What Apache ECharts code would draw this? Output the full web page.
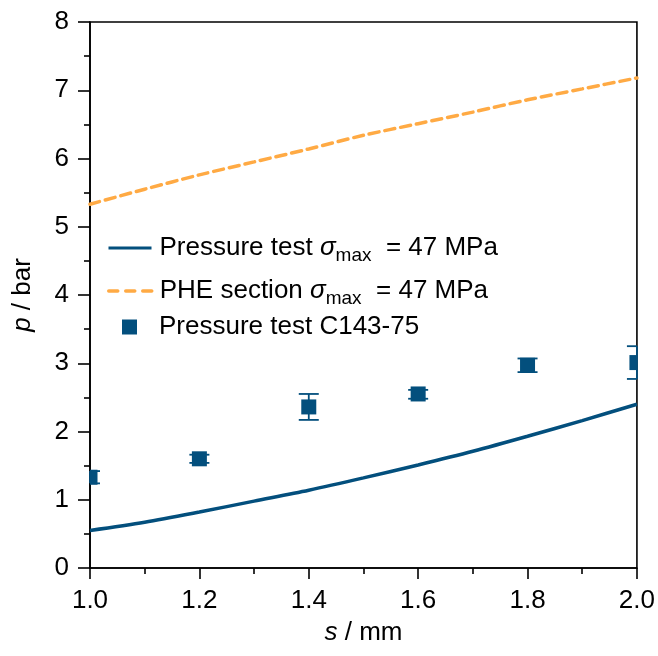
<!DOCTYPE html>
<html>
<head>
<meta charset="utf-8">
<script src="https://cdn.jsdelivr.net/npm/echarts@6/dist/echarts.min.js"></script>
<style>
  html, body {margin: 0; padding: 0; background: #fff;}
  #chart {width: 658px; height: 656px;}
</style>
</head>
<body>
<div id="chart"></div>
<script>
// model curves, s in mm
const sModel = [1.0, 1.1, 1.2, 1.3, 1.4, 1.5, 1.6, 1.7, 1.8, 1.9, 2.0];
const pPressureTest = [0.55, 0.67, 0.82, 0.98, 1.14, 1.32, 1.51, 1.71, 1.93, 2.16, 2.40];
const pPheSection = [5.33, 5.55, 5.76, 5.95, 6.14, 6.34, 6.51, 6.68, 6.86, 7.02, 7.18];

// measured points C143-75
const sMeas = [1.0, 1.2, 1.4, 1.6, 1.8, 2.0];
const pMeas = [1.33, 1.60, 2.36, 2.55, 2.97, 3.01];
const pMeasLow = [1.24, 1.54, 2.17, 2.48, 2.87, 2.77];
const pMeasHigh = [1.42, 1.66, 2.55, 2.61, 3.07, 3.25];

const blue = "#034f7d";
const orange = "#ffaa44";
const font = "Liberation Sans, Arial, sans-serif";

const chart = echarts.init(document.getElementById("chart"));

const zip = (a, b) => a.map((v, i) => [v, b[i]]);

const richLegend = {
	n: {fontSize: 26, fontFamily: font, color: "#000"},
	i: {fontSize: 26, fontFamily: font, fontStyle: "italic", color: "#000"},
	sub: {fontSize: 19, fontFamily: font, color: "#000", padding: [15, 0, 0, 0]},
};
const legendNames = {
	"Pressure test": "{n|Pressure test }{i|σ}{sub|max}{n|  = 47 MPa}",
	"PHE section": "{n|PHE section }{i|σ}{sub|max}{n|  = 47 MPa}",
	"Pressure test C143-75": "{n|Pressure test C143-75}",
};
const makeLegend = (name, left, top, width, extra) => Object.assign({
	left: left,
	top: top,
	orient: "vertical",
	padding: 0,
	itemWidth: width,
	itemHeight: 14,
	itemGap: 0,
	data: [name],
	formatter: (n) => legendNames[n],
	textStyle: {rich: richLegend, padding: [0, 0, 0, 3]},
	selectedMode: false,
}, extra);

// squares and error bars, clipped to the plot area
const measRender = (params, api) => {
	const cs = params.coordSys;
	const clampX = (x) => Math.min(Math.max(x, cs.x), cs.x + cs.width);
	const x = api.value(0);
	const c = api.coord([x, api.value(1)]);
	const lo = api.coord([x, api.value(2)]);
	const hi = api.coord([x, api.value(3)]);
	const hw = 10;
	const hs = 7.5;
	const style = {stroke: blue, lineWidth: 1.8};
	const sq = echarts.graphic.clipRectByRect(
		{x: c[0] - hs, y: c[1] - hs, width: hs * 2, height: hs * 2},
		{x: cs.x, y: cs.y, width: cs.width, height: cs.height}
	);
	return {
		type: "group",
		children: [
			{type: "line", shape: {x1: lo[0], y1: lo[1], x2: hi[0], y2: hi[1]}, style},
			{type: "line", shape: {x1: clampX(lo[0] - hw), y1: lo[1], x2: clampX(lo[0] + hw), y2: lo[1]}, style},
			{type: "line", shape: {x1: clampX(hi[0] - hw), y1: hi[1], x2: clampX(hi[0] + hw), y2: hi[1]}, style},
			{type: "rect", shape: sq, style: {fill: blue}},
		],
	};
};

const nameStyle = {
	rich: {
		i: {fontSize: 26, fontFamily: font, fontStyle: "italic", color: "#000"},
	},
	fontSize: 26,
	fontFamily: font,
	color: "#000",
};
const axisLine = {lineStyle: {color: "#000", width: 1.6}};

chart.setOption({
	animation: false,
	backgroundColor: "#fff",
	grid: {left: 90, right: 21, top: 22, bottom: 88, show: true, borderColor: "#000", borderWidth: 1.6},
	legend: [
		makeLegend("Pressure test", 107, 235, 43, {itemStyle: {opacity: 0}, lineStyle: {width: 3}}),
		makeLegend("PHE section", 107, 278, 43, {itemStyle: {opacity: 0}, lineStyle: {width: 3.5, type: [9, 8]}}),
		makeLegend("Pressure test C143-75", 122, 314, 15, {
			itemHeight: 15,
			icon: "rect",
			textStyle: {rich: richLegend, padding: [0, 0, 0, 17]},
		}),
	],
	xAxis: {
		type: "value",
		min: 1.0,
		max: 2.0,
		interval: 0.2,
		name: "{i|s} / mm",
		nameLocation: "middle",
		nameGap: 52,
		nameTextStyle: nameStyle,
		axisLine: axisLine,
		axisTick: {length: 11, lineStyle: {color: "#000", width: 1.6}},
		minorTick: {show: true, splitNumber: 2, length: 6, lineStyle: {color: "#000", width: 1.6}},
		splitLine: {show: false},
		axisLabel: {fontSize: 26, fontFamily: font, color: "#000", margin: 20, formatter: (v) => v.toFixed(1)},
	},
	yAxis: {
		type: "value",
		min: 0,
		max: 8,
		interval: 1,
		name: "{i|p} / bar",
		nameLocation: "middle",
		nameGap: 54,
		nameTextStyle: nameStyle,
		axisLine: axisLine,
		axisTick: {length: 12, lineStyle: {color: "#000", width: 1.6}},
		minorTick: {show: true, splitNumber: 2, length: 6, lineStyle: {color: "#000", width: 1.6}},
		splitLine: {show: false},
		axisLabel: {fontSize: 26, fontFamily: font, color: "#000", margin: 21},
	},
	series: [
		{
			name: "Pressure test",
			type: "line",
			data: zip(sModel, pPressureTest),
			symbol: "none",
			smooth: 0.3,
			lineStyle: {color: blue, width: 3.5},
			itemStyle: {color: blue},
			z: 3,
		},
		{
			name: "PHE section",
			type: "line",
			data: zip(sModel, pPheSection),
			symbol: "none",
			smooth: 0.3,
			lineStyle: {color: orange, width: 3.5, type: [10, 6], cap: "round"},
			itemStyle: {color: orange},
			z: 3,
		},
		{
			name: "Pressure test C143-75",
			type: "custom",
			data: sMeas.map((s, i) => [s, pMeas[i], pMeasLow[i], pMeasHigh[i]]),
			renderItem: measRender,
			itemStyle: {color: blue},
			z: 5,
		},
	],
});
</script>
</body>
</html>
